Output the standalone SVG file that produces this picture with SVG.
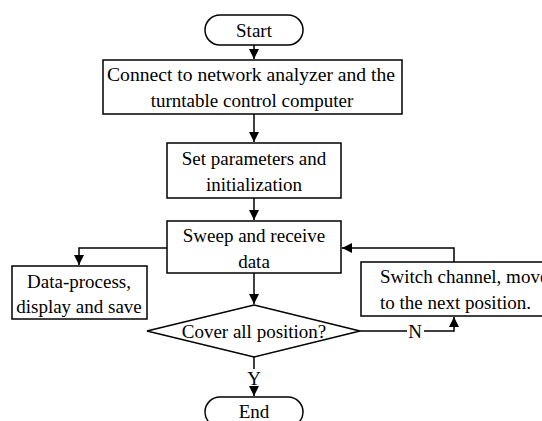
<svg xmlns="http://www.w3.org/2000/svg" width="542" height="421" viewBox="0 0 542 421">
<defs>
<style>
.n{fill:#fff;stroke:#000;stroke-width:1.5}
.c{fill:none;stroke:#000;stroke-width:1.5}
.t{font-family:'Liberation Serif','Times New Roman',serif;font-size:19px;fill:#000}
.m{text-anchor:middle}
</style>
<marker id="a" viewBox="0 0 10 10" refX="10" refY="5" markerWidth="10" markerHeight="10" markerUnits="userSpaceOnUse" orient="auto">
<path d="M0,0 L10,5 L0,10 Z" fill="#000"/>
</marker>
</defs>
<rect width="542" height="421" fill="#fff"/>
<g id="connectors">
<path class="c" d="M254,45 V59" marker-end="url(#a)"/>
<path class="c" d="M254,114 V142" marker-end="url(#a)"/>
<path class="c" d="M254,198 V220" marker-end="url(#a)"/>
<path class="c" d="M167,248 H79 V265" marker-end="url(#a)"/>
<path class="c" d="M254,273 V304" marker-end="url(#a)"/>
<path class="c" d="M254,357 V369"/>
<path class="c" d="M254,389 V396" marker-end="url(#a)"/>
<path class="c" d="M360,331 H407 M424,331 H454 V317" marker-end="url(#a)"/>
<path class="c" d="M454,262 V248 H342" marker-end="url(#a)"/>
<text class="t m" x="254" y="385">Y</text>
<text class="t m" x="415" y="338">N</text>
</g>
<g id="start">
<rect class="n" x="205" y="15" width="98" height="30" rx="15"/>
<text class="t m" x="254" y="37">Start</text>
</g>
<g id="connect">
<rect class="n" x="103" y="60" width="299" height="54"/>
<text class="t m" x="251" y="81" textLength="288" lengthAdjust="spacingAndGlyphs">Connect to network analyzer and the</text>
<text class="t m" x="252" y="107">turntable control computer</text>
</g>
<g id="set">
<rect class="n" x="167" y="143" width="174" height="55"/>
<text class="t m" x="254" y="165">Set parameters and</text>
<text class="t m" x="254" y="191">initialization</text>
</g>
<g id="sweep">
<rect class="n" x="167" y="221" width="174" height="52"/>
<text class="t m" x="254" y="242">Sweep and receive</text>
<text class="t m" x="254" y="268">data</text>
</g>
<g id="data">
<rect class="n" x="12" y="266" width="135" height="53"/>
<text class="t m" x="79" y="288">Data-process,</text>
<text class="t m" x="79" y="313">display and save</text>
</g>
<g id="cover">
<polygon class="n" points="254,305 360,331 254,357 147,331"/>
<text class="t m" x="254" y="338">Cover all position?</text>
</g>
<g id="switch">
<rect class="n" x="361" y="262" width="200" height="54"/>
<text class="t" x="380" y="283">Switch channel, moves</text>
<text class="t" x="380" y="309">to the next position.</text>
</g>
<g id="end">
<rect class="n" x="205" y="397" width="98" height="30" rx="15"/>
<text class="t m" x="254" y="418">End</text>
</g>
</svg>
